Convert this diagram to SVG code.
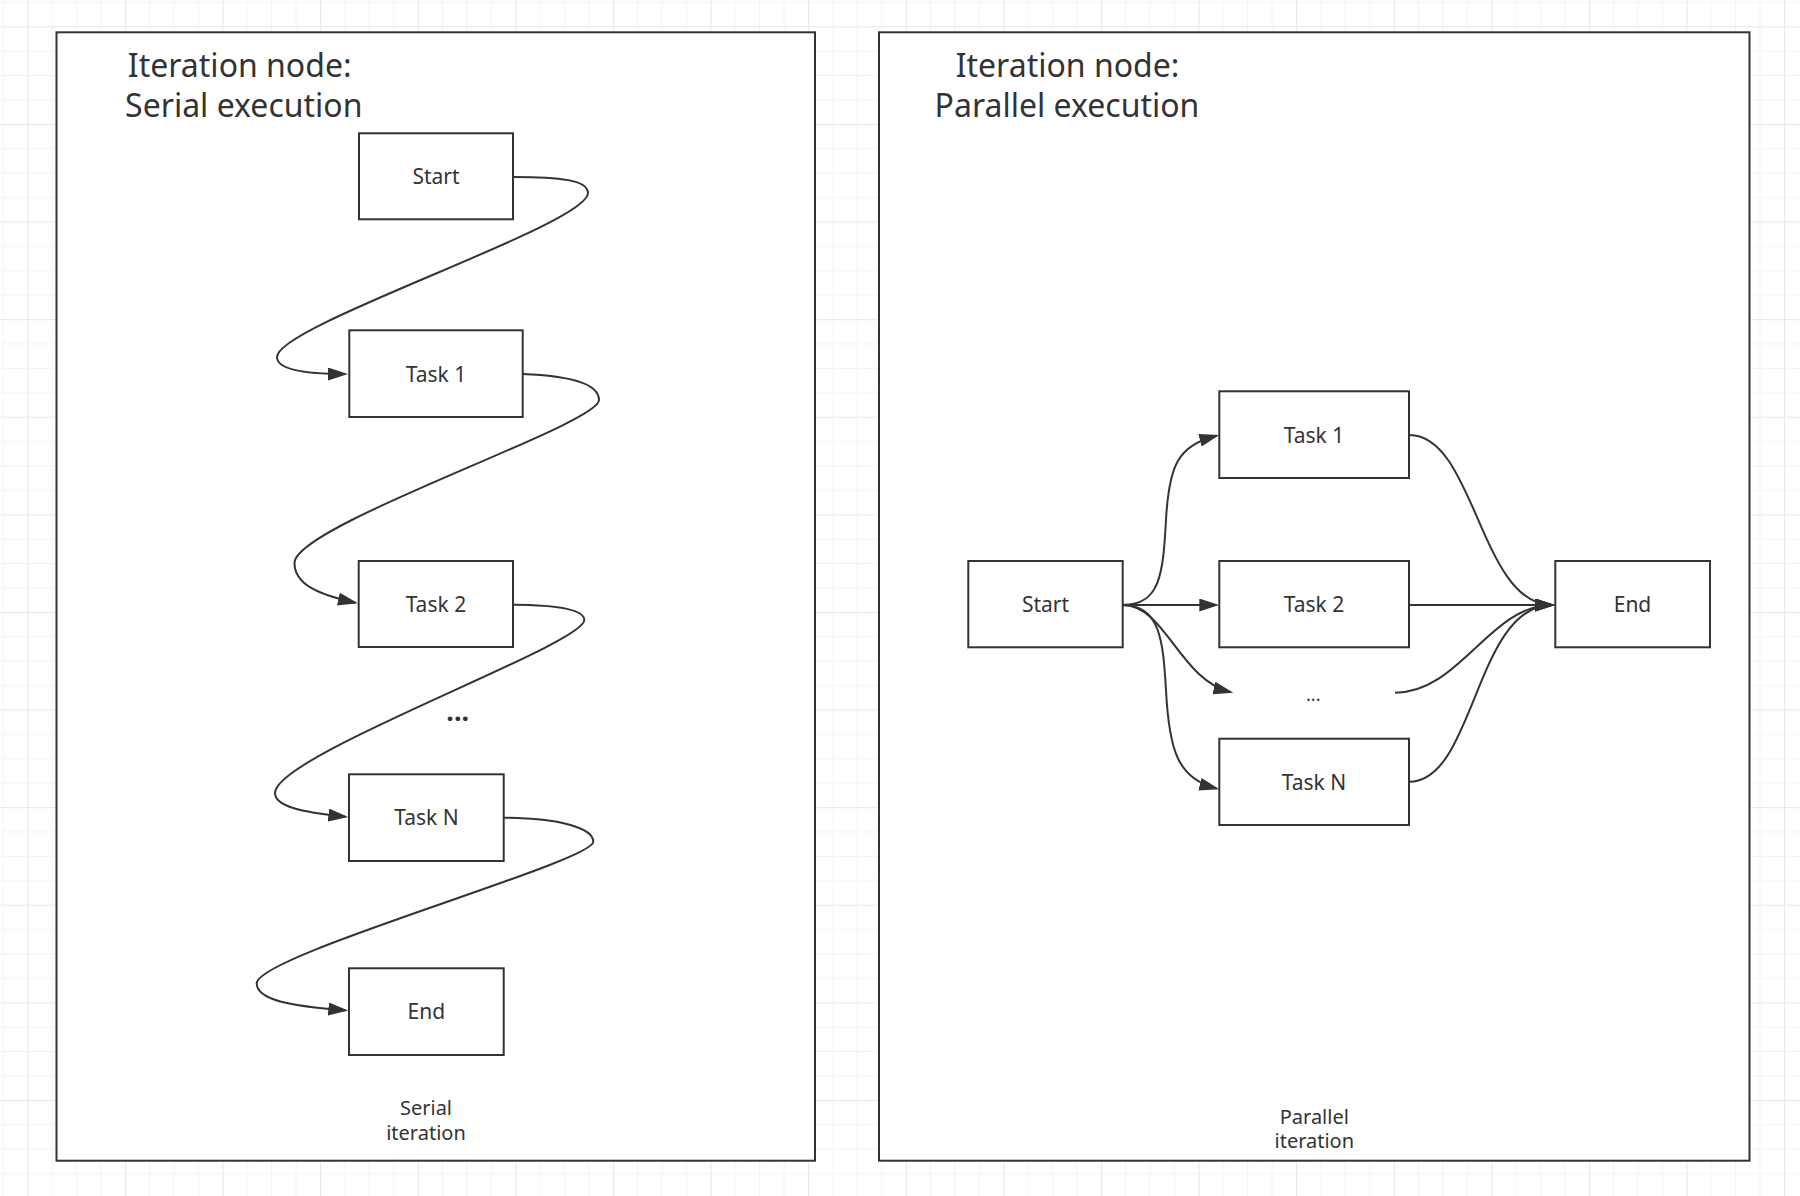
<svg xmlns="http://www.w3.org/2000/svg" width="1800" height="1196" viewBox="0 0 1800 1196">
<style>
.frame{fill:#ffffff;stroke:#333333;stroke-width:2}
.box{fill:#ffffff;stroke:#333333;stroke-width:2}
.lbl{font-family:"Noto Sans","Open Sans","Liberation Sans",sans-serif;font-size:21px;fill:#333333;text-anchor:middle}
.cap{font-family:"Noto Sans","Open Sans","Liberation Sans",sans-serif;font-size:20px;fill:#333333;text-anchor:middle}
.title{font-family:"Noto Sans","Open Sans","Liberation Sans",sans-serif;font-size:32px;fill:#333333;text-anchor:middle}
.edge{fill:none;stroke:#333333;stroke-width:2}
.arr{marker-end:url(#ah)}
</style>
<defs>
<pattern id="grid" x="27.2" y="26.2" width="97.6" height="97.6" patternUnits="userSpaceOnUse">
<path d="M24.9,0V97.6M49.3,0V97.6M73.7,0V97.6M0,24.9H97.6M0,49.3H97.6M0,73.7H97.6" stroke="#f3f3f3" stroke-width="1" fill="none"/>
<path d="M0.5,0V97.6M0,0.5H97.6" stroke="#eaeaea" stroke-width="1.5" fill="none"/>
</pattern>
<marker id="ah" viewBox="0 0 20 13" markerWidth="20" markerHeight="13" refX="17" refY="6.5" orient="auto" markerUnits="userSpaceOnUse">
<path d="M0,0L20,6.5L0,13Z" fill="#333333"/>
</marker>
</defs>
<rect x="0" y="0" width="1800" height="1196" fill="#ffffff"/>
<rect x="0" y="0" width="1800" height="1196" fill="url(#grid)"/>

<g id="serial-frame">
<rect class="frame" x="56.5" y="32.3" width="758.5" height="1128.4"/>
<text class="title" x="239.7" y="77.3">Iteration node:</text>
<text class="title" x="243.8" y="116.7">Serial execution</text>
<text class="cap" x="426" y="1114.5">Serial</text>
<text class="cap" x="426" y="1139.5">iteration</text>
</g>

<g id="parallel-frame">
<rect class="frame" x="879" y="32.3" width="870.5" height="1128.4"/>
<text class="title" x="1067.5" y="77.3">Iteration node:</text>
<text class="title" x="1067" y="116.7">Parallel execution</text>
<text class="cap" x="1314.3" y="1123.5">Parallel</text>
<text class="cap" x="1314.3" y="1148">iteration</text>
</g>

<g id="connectors">
<path class="edge arr" d="M513,177 C560,177 588,180 588,193 C588,225 277,325 277,357 C277,368 300,374 345,374"/>
<path class="edge arr" d="M522.7,374 C575,376 599,385 599,400 C599,425 294.5,525 294.5,563 C294.5,585 320,595 355,602.7"/>
<path class="edge arr" d="M513,604.7 C560,605 584.3,610 584.3,620 C584.3,645 275,755 275,793 C275,806 300,812 345.3,816.8"/>
<path class="edge arr" d="M503.7,817.7 C560,818 593.3,828 593.3,841.7 C593.3,862 256.7,955 256.7,983.3 C256.7,1000 290,1006 345.3,1010.3"/>

<path class="edge arr" d="M1122.7,605 C1160,605 1163,575 1166,520 C1169,465 1177.6,446.2 1216.4,435.8"/>
<path class="edge arr" d="M1122.7,605 L1216.3,605"/>
<path class="edge arr" d="M1122.7,605 C1165,605 1180,680 1230.4,692"/>
<path class="edge arr" d="M1122.7,605 C1160,605 1163,640 1166,690 C1169,750 1177.6,778.5 1216.4,788.5"/>

<path class="edge arr" d="M1409.3,435 C1475,435 1480,605 1552,605"/>
<path class="edge arr" d="M1409.3,605 L1552,605"/>
<path class="edge arr" d="M1395,692.7 C1460,692.7 1490,605 1552,605"/>
<path class="edge arr" d="M1409.3,781.7 C1475,781.7 1475,605 1552,605"/>
</g>

<g id="s-start"><rect class="box" x="359" y="133.3" width="154" height="86"/><text class="lbl" x="436" y="184">Start</text></g>
<g id="s-task1"><rect class="box" x="349.3" y="330.3" width="173.4" height="86.7"/><text class="lbl" x="436" y="381.5">Task 1</text></g>
<g id="s-task2"><rect class="box" x="358.7" y="561" width="154.3" height="86"/><text class="lbl" x="435.9" y="612">Task 2</text></g>
<g id="s-dots"><text x="457.7" y="720.5" style="font-family:'Noto Sans','Liberation Sans',sans-serif;font-size:27px;font-weight:bold;fill:#333333;text-anchor:middle">...</text></g>
<g id="s-taskn"><rect class="box" x="349" y="774.3" width="154.7" height="86.7"/><text class="lbl" x="426.4" y="825">Task N</text></g>
<g id="s-end"><rect class="box" x="349" y="968.3" width="154.7" height="86.7"/><text class="lbl" x="426.4" y="1019.2">End</text></g>

<g id="p-start"><rect class="box" x="968.3" y="561" width="154.4" height="86.3"/><text class="lbl" x="1045.5" y="612">Start</text></g>
<g id="p-task1"><rect class="box" x="1219.3" y="391.3" width="189.7" height="86.7"/><text class="lbl" x="1314" y="442.5">Task 1</text></g>
<g id="p-task2"><rect class="box" x="1219.3" y="561" width="189.7" height="86.3"/><text class="lbl" x="1314" y="612">Task 2</text></g>
<g id="p-dots"><text class="lbl" x="1313.3" y="701" style="font-size:18px">...</text></g>
<g id="p-taskn"><rect class="box" x="1219.3" y="738.7" width="189.7" height="86.3"/><text class="lbl" x="1314" y="789.5">Task N</text></g>
<g id="p-end"><rect class="box" x="1555.3" y="561" width="154.7" height="86.3"/><text class="lbl" x="1632.5" y="612">End</text></g>
</svg>
